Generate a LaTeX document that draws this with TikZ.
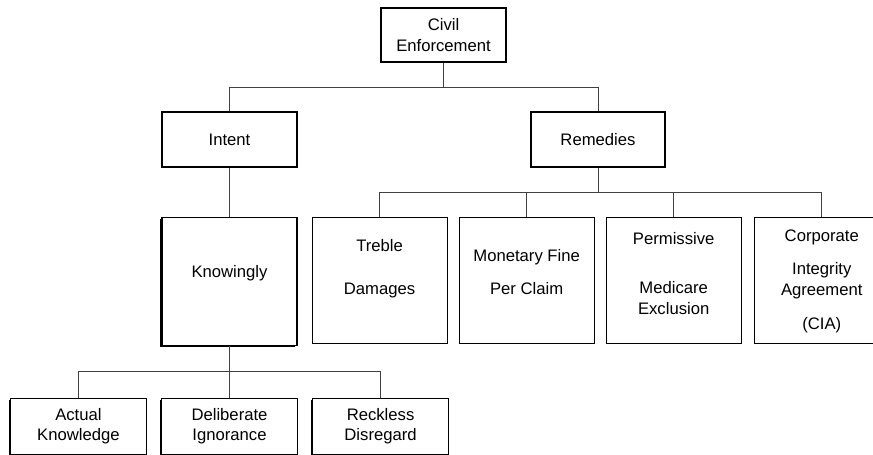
\documentclass[tikz,border=0pt]{standalone}
\usepackage{fontspec}
\setmainfont{Liberation Sans}
\usetikzlibrary{positioning, shadows}

\begin{document}
\begin{tikzpicture}[
    x=0.75pt, y=0.75pt,
    node distance=8.25pt and 8.25pt,
    block/.style={
        rectangle, draw, line width=0.8pt, fill=white,
        minimum width=101.25pt, minimum height=41.25pt,
        inner sep=0pt, align=center,
        font=\fontsize{12.5}{15.5}\selectfont
    },
    tall/.style={minimum height=94.5pt},
    heavy/.style={drop shadow={shadow xshift=-1.2pt, shadow yshift=-1.4pt,
        fill=black, opacity=1}},
    link/.style={line width=0.6pt, draw=black!75}
]
\useasboundingbox (0,0) rectangle (873,-454);
\clip (0,0) rectangle (873,-454);

% ── Top levels ──
\node[block, minimum width=93.75pt, minimum height=40.5pt] (root) at (443.5,-35) {Civil\\Enforcement};
\node[block] (intent) at (229.5,-139.5) {Intent};
\node[block, minimum width=100.5pt] (rem) at (598,-139.5) {Remedies};

% ── Intent branch ──
\node[block, heavy, minimum height=96pt, below=36.75pt of intent] (know) {Knowingly\\[-0.5pt]\mbox{}};
\node[block, heavy, minimum width=102pt, minimum height=42pt, below=39pt of know] (delib) {Deliberate\\Ignorance};
\node[block, heavy, minimum width=102pt, minimum height=42pt, left=10.5pt of delib] (actual) {Actual\\Knowledge};
\node[block, heavy, minimum width=102pt, minimum height=42pt, right=10.5pt of delib] (reckless) {Reckless\\Disregard};

% ── Remedies branch ──
\node[block, tall, right=10.5pt of know.north east, anchor=north west] (treble) {Treble\\[16.75pt]Damages\\[4.05pt]\mbox{}};
\node[block, tall, right=of treble] (fine) {Monetary Fine\\[9.25pt]Per Claim\\[-3.45pt]\mbox{}};
\node[block, tall, right=of fine] (excl) {Permissive\\[21.25pt]Medicare\\Exclusion\\[-5.55pt]\mbox{}};
\node[block, tall, right=9pt of excl] (cia) {Corporate\\[9.25pt]Integrity\\Agreement\\[10pt](CIA)\\[-14.45pt]\mbox{}};

% ── Connectors ──
\draw[link] (root.south) -- ++(0,-25) -| (intent.north);
\draw[link] (root.south) -- ++(0,-25) -| (rem.north);
\draw[link] (intent) -- (know);
\foreach \n in {treble, fine, excl, cia}
    \draw[link] (rem.south) -- ++(0,-25) -| (\n.north);
\foreach \n in {actual, delib, reckless}
    \draw[link] (know.south) -- ++(0,-26) -| (\n.north);

\end{tikzpicture}
\end{document}
